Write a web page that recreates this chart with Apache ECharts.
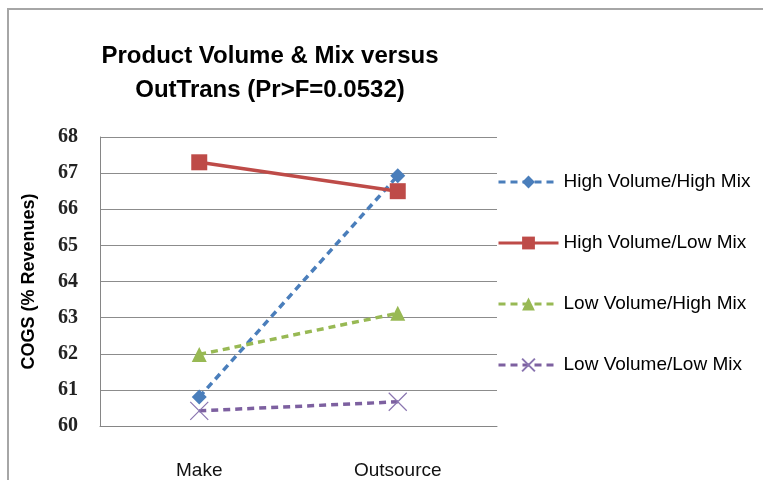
<!DOCTYPE html>
<html>
<head>
<meta charset="utf-8">
<script src="https://cdn.jsdelivr.net/npm/echarts@6/dist/echarts.min.js"></script>
<style>
  html, body { margin: 0; padding: 0; background: #fff; }
  #chart { width: 763px; height: 480px; }
</style>
</head>
<body>
<div id="chart"></div>
<script>
// data
const categories = ['Make', 'Outsource']
const seriesNames = ['High Volume/High Mix', 'High Volume/Low Mix', 'Low Volume/High Mix', 'Low Volume/Low Mix']
const hvhm = [60.8, 66.93]
const hvlm = [67.3, 66.5]
const lvhm = [61.98, 63.12]
const lvlm = [60.42, 60.67]
const yTicks = { min: 60, max: 68, step: 1 }

const sansFont = 'Liberation Sans, Arial, sans-serif'

const chart = echarts.init(document.getElementById('chart'))

const lineSeries = (name, data, color, dashed, symbol, symbolSize, extraItem) => ({
  name: name,
  type: 'line',
  data: data,
  symbol: symbol,
  symbolSize: symbolSize,
  showAllSymbol: true,
  lineStyle: { color: color, width: 3.5, type: dashed ? [7, 5] : 'solid' },
  itemStyle: Object.assign({ color: color }, extraItem || {}),
  emphasis: { disabled: true },
  z: 3,
})

chart.setOption({
  animation: false,
  backgroundColor: '#fff',
  title: {
    text: 'Product Volume & Mix versus\nOutTrans (Pr>F=0.0532)',
    left: 265,
    top: 34,
    textAlign: 'center',
    textStyle: {
      fontFamily: sansFont,
      fontSize: 24,
      fontWeight: 'bold',
      color: '#000',
      lineHeight: 34,
    },
  },
  graphic: [
    {
      type: 'rect',
      shape: { x: 8, y: 9, width: 800, height: 520 },
      style: { fill: 'none', stroke: '#a6a6a6', lineWidth: 2 },
      silent: true,
    },
  ],
  legend: {
    orient: 'vertical',
    left: 497,
    top: 172,
    padding: 0,
    itemWidth: 60,
    itemHeight: 16,
    itemGap: 41,
    lineStyle: { width: 3 },
    textStyle: { fontFamily: sansFont, fontSize: 19, lineHeight: 20, color: '#000' },
    data: seriesNames,
  },
  grid: { left: 100, right: 266, top: 137, bottom: 54 },
  xAxis: {
    type: 'category',
    data: categories,
    boundaryGap: true,
    axisLine: { lineStyle: { color: '#868686', width: 1 } },
    axisTick: { show: false },
    axisLabel: { fontFamily: sansFont, fontSize: 19, color: '#111', margin: 35 },
  },
  yAxis: {
    type: 'value',
    min: yTicks.min,
    max: yTicks.max,
    interval: yTicks.step,
    name: 'COGS (% Revenues)',
    nameLocation: 'middle',
    nameGap: 62,
    nameTextStyle: { fontFamily: sansFont, fontSize: 18, fontWeight: 'bold', color: '#000' },
    axisLine: { show: true, lineStyle: { color: '#868686', width: 1 } },
    axisTick: { show: false },
    splitLine: { lineStyle: { color: '#8c8c8c', width: 1 } },
    axisLabel: { fontFamily: 'Liberation Serif, serif', fontSize: 20, fontWeight: 'bold', color: '#222', margin: 22 },
  },
  series: [
    lineSeries(seriesNames[0], hvhm, '#4a7ebb', true, 'diamond', 15),
    lineSeries(seriesNames[1], hvlm, '#be4b48', false, 'rect', 16),
    lineSeries(seriesNames[2], lvhm, '#98b954', true, 'triangle', 15),
    lineSeries(seriesNames[3], lvlm, '#7d60a0', true, 'path://M0,0L10,10M10,0L0,10', 18,
      { color: 'none', borderColor: '#8a75b0', borderWidth: 1.2 }),
  ],
})
</script>
</body>
</html>
